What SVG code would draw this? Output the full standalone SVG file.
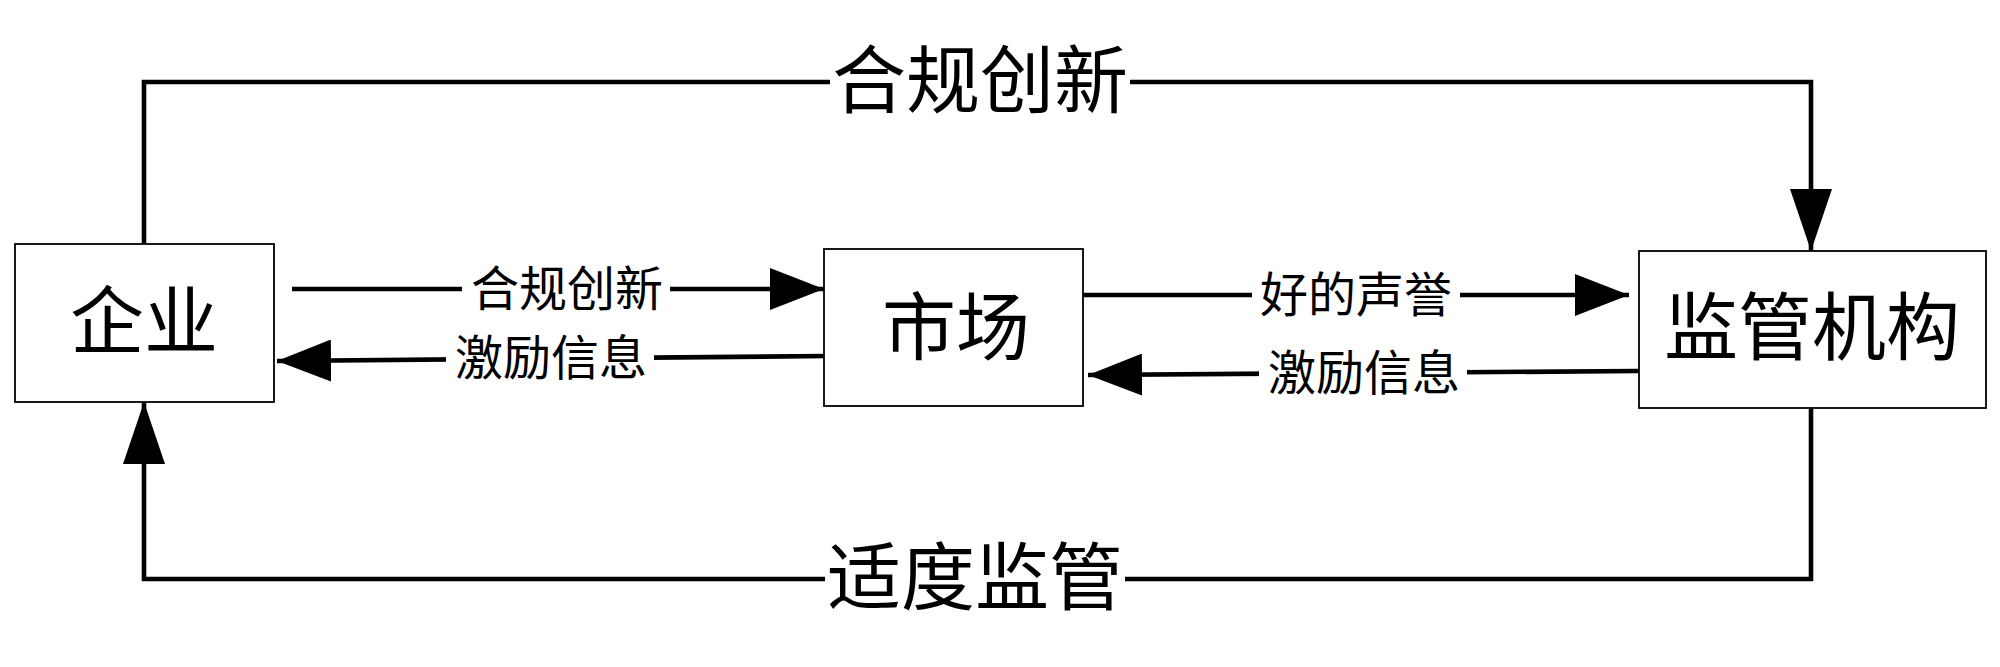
<svg xmlns="http://www.w3.org/2000/svg" width="2000" height="667" viewBox="0 0 2000 667">
<style>
.box{fill:#fff;stroke:#000;stroke-width:1.8}
.con{fill:none;stroke:#000;stroke-width:4.6}
text{font-family:"Liberation Serif","Noto Sans CJK SC",serif;fill:#000;text-anchor:middle;dominant-baseline:central}
.big{font-size:74px}
.sm{font-size:48px}
.lbl{fill:#fff;stroke:none}
</style>
<defs>
<marker id="ah" markerUnits="userSpaceOnUse" markerWidth="54" markerHeight="42" refX="54" refY="21" orient="auto">
<path d="M0,0 L54,21 L0,42 Z" fill="#000"/>
</marker>
<marker id="ahb" markerUnits="userSpaceOnUse" markerWidth="62" markerHeight="42" refX="62" refY="21" orient="auto">
<path d="M0,0 L62,21 L0,42 Z" fill="#000"/>
</marker>
</defs>
<rect width="2000" height="667" fill="#fff"/>
<g id="connectors">
<polyline class="con" points="144,244 144,82 1811,82 1811,251" marker-end="url(#ahb)"/>
<polyline class="con" points="1811,408 1811,579 144,579 144,402" marker-end="url(#ahb)"/>
<line class="con" x1="292" y1="289" x2="824" y2="289" marker-end="url(#ah)"/>
<line class="con" x1="829" y1="356" x2="277" y2="361" marker-end="url(#ah)"/>
<line class="con" x1="1083" y1="295" x2="1629" y2="295" marker-end="url(#ah)"/>
<line class="con" x1="1639" y1="371" x2="1088" y2="375" marker-end="url(#ah)"/>
<rect class="lbl" x="830" y="40" width="300" height="84"/>
<text class="big" x="980" y="82">合规创新</text>
<rect class="lbl" x="825" y="537" width="300" height="84"/>
<text class="big" x="975" y="579">适度监管</text>
<rect class="lbl" x="462" y="265" width="208" height="48"/>
<text class="sm" x="567" y="289">合规创新</text>
<rect class="lbl" x="446" y="334" width="208" height="48"/>
<text class="sm" x="551" y="358">激励信息</text>
<rect class="lbl" x="1252" y="271" width="208" height="48"/>
<text class="sm" x="1356" y="295">好的声誉</text>
<rect class="lbl" x="1259" y="349" width="208" height="48"/>
<text class="sm" x="1364" y="373">激励信息</text>
</g>
<g id="enterprise">
<rect class="box" x="15" y="244" width="259" height="158"/>
<text class="big" x="144" y="323">企业</text>
</g>
<g id="market">
<rect class="box" x="824" y="249" width="259" height="157"/>
<text class="big" x="956" y="329">市场</text>
</g>
<g id="regulator">
<rect class="box" x="1639" y="251" width="347" height="157"/>
<text class="big" x="1812" y="329">监管机构</text>
</g>
</svg>
